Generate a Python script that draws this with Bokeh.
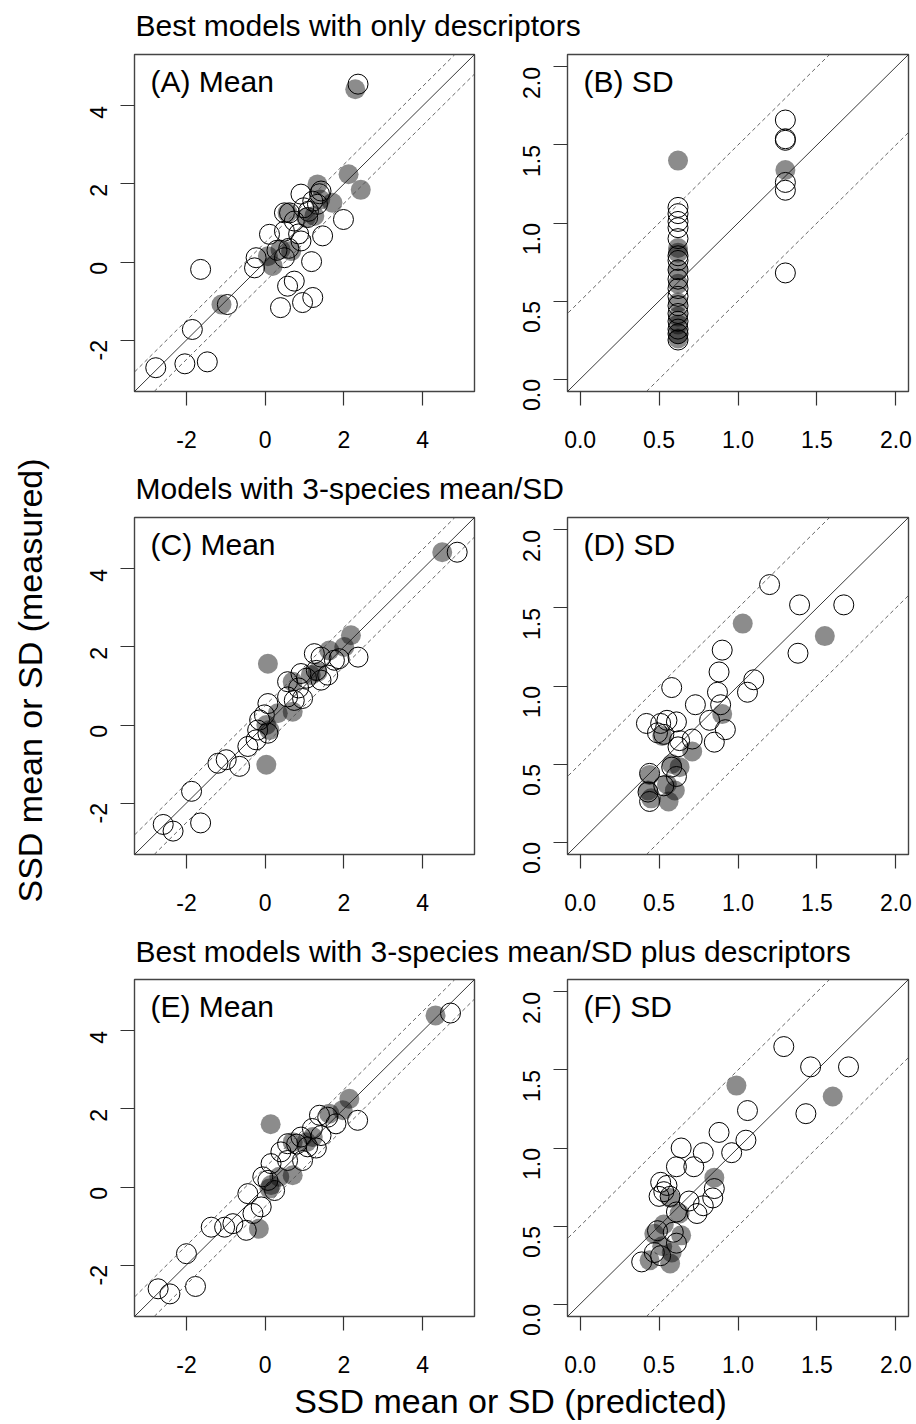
import math
from bokeh.plotting import figure
from bokeh.models import Range1d, FixedTicker, NumeralTickFormatter, Slope, Label
from bokeh.layouts import row, column
from bokeh.embed import file_html
from bokeh.resources import INLINE

# ---------------- data (predicted = x, measured = y) ----------------
# Panel A: mean, best models with only descriptors
a_open_pred = [2.36, -0.96, -1.64, -1.85, -2.78, -2.04, -1.47, 1.99, 1.46, 1.18, 0.39, 0.57, 0.74, 0.95, 1.21,
               -0.23, -0.27, 0.11, 0.49, 0.91, 0.49, 0.49, 0.62, 0.91, 0.98, 1.21, 1.42, 1.33, 0.74, 1.08,
               1.38, 1.10, 0.30, 0.85, 0.60]
a_open_meas = [4.56, -1.09, -0.19, -1.73, -2.71, -2.61, -2.56, 1.09, 0.67, 0.01, -1.17, -0.62, -0.49, -1.04, -0.91,
               0.11, -0.15, 0.71, 0.79, 0.54, 0.11, 1.26, 1.26, 1.74, 1.39, 1.56, 1.82, 1.48, 1.05, 1.14,
               1.75, 1.30, 0.30, 0.72, 0.35]
a_fill_pred = [2.29, 2.12, 2.43, 1.33, 1.71, -1.11, 0.07, 0.19, 0.39, 0.66, 1.04, 1.25, 0.57, 1.40]
a_fill_meas = [4.43, 2.25, 1.85, 1.99, 1.52, -1.09, 0.15, -0.10, 0.32, 0.28, 1.14, 1.18, 1.26, 1.60]

# Panel B: SD, best models with only descriptors
b_open_pred = [0.62] * 17 + [1.30] * 6
b_open_meas = [1.10, 1.06, 1.01, 0.97, 0.90, 0.79, 0.76, 0.70, 0.64, 0.58, 0.53, 0.47, 0.42, 0.37, 0.32, 0.29, 0.25,
               1.66, 1.54, 1.53, 1.26, 1.21, 0.68]
b_fill_pred = [0.62] * 10 + [1.30]
b_fill_meas = [1.40, 0.84, 0.81, 0.70, 0.61, 0.49, 0.40, 0.35, 0.29, 0.26, 1.34]

# Panel C: mean, models with 3-species mean/SD
c_open_pred = [4.88, 2.36, 1.25, 1.42, 1.76, 1.88, 0.57, 0.91, 1.59, 1.42, 0.07, 0.57, 0.95, 0.74, -0.02,
               -0.14, -0.19, 0.07, -0.23, -0.44, -0.65, -1.20, -0.99, -1.87, -2.59, -2.34, -1.64, 1.05, 1.30, 0.85]
c_open_meas = [4.43, 1.74, 1.83, 1.74, 1.66, 1.70, 1.11, 1.32, 1.28, 1.15, 0.55, 0.72, 0.68, 0.63, 0.26,
               0.13, -0.13, -0.21, -0.38, -0.55, -1.06, -0.98, -0.89, -1.70, -2.55, -2.72, -2.51, 1.20, 1.40, 0.95]
c_fill_pred = [4.50, 0.07, 0.03, 2.18, 2.01, 1.63, 0.70, 1.16, 1.33, 0.32, 0.70, 0.03, 0.11]
c_fill_meas = [4.43, 1.57, -1.02, 2.30, 2.00, 1.91, 1.11, 1.28, 1.36, 0.30, 0.34, 0.00, -0.13]

# Panel D: SD, models with 3-species mean/SD
d_open_pred = [1.20, 1.39, 1.67, 0.90, 1.38, 0.88, 1.10, 1.06, 0.87, 0.58, 0.73, 0.89, 0.82, 0.92, 0.85,
               0.42, 0.51, 0.61, 0.55, 0.49, 0.53, 0.63, 0.71, 0.62, 0.44, 0.58, 0.61, 0.44, 0.43, 0.53]
d_open_meas = [1.65, 1.52, 1.52, 1.23, 1.21, 1.09, 1.04, 0.96, 0.96, 0.99, 0.88, 0.88, 0.78, 0.72, 0.64,
               0.76, 0.76, 0.77, 0.78, 0.70, 0.69, 0.65, 0.66, 0.61, 0.44, 0.48, 0.42, 0.26, 0.32, 0.36]
d_fill_pred = [1.03, 1.55, 0.90, 0.52, 0.71, 0.58, 0.63, 0.44, 0.55, 0.43, 0.45, 0.56, 0.60]
d_fill_meas = [1.40, 1.32, 0.82, 0.68, 0.58, 0.50, 0.48, 0.43, 0.37, 0.33, 0.28, 0.26, 0.33]

# Panel E: mean, best models with 3-species mean/SD plus descriptors
e_open_pred = [4.71, 2.35, 1.38, 1.80, 1.59, 0.57, 0.91, 1.42, 1.08, 0.15, 0.57, 0.95, 0.07, -0.06, 0.24,
               -0.44, -0.10, -0.31, -0.48, -0.82, -1.03, -1.37, -2.00, -2.72, -2.42, -1.77, 1.20, 0.80, 1.30, 0.40]
e_open_meas = [4.46, 1.71, 1.84, 1.62, 1.79, 1.11, 1.28, 1.32, 1.03, 0.60, 0.68, 0.68, 0.17, 0.26, -0.09,
               -0.17, -0.51, -0.68, -1.11, -0.94, -1.03, -1.03, -1.71, -2.61, -2.74, -2.55, 1.50, 1.10, 1.00, 0.90]
e_fill_pred = [4.33, 0.14, -0.16, 2.14, 1.97, 1.63, 0.70, 1.21, 0.36, 0.70, 0.11, 1.05, 0.15]
e_fill_meas = [4.40, 1.61, -1.07, 2.26, 1.97, 1.88, 1.15, 1.28, 0.26, 0.30, -0.04, 1.15, 0.05]

# Panel F: SD, best models with 3-species mean/SD plus descriptors
f_open_pred = [1.29, 1.46, 1.70, 1.43, 1.06, 0.88, 1.05, 0.96, 0.64, 0.78, 0.72, 0.61, 0.85, 0.84, 0.78,
               0.74, 0.51, 0.55, 0.53, 0.57, 0.50, 0.69, 0.61, 0.39, 0.49, 0.59, 0.47, 0.51, 0.61]
f_open_meas = [1.65, 1.52, 1.52, 1.22, 1.24, 1.10, 1.05, 0.97, 1.00, 0.97, 0.88, 0.88, 0.74, 0.68, 0.63,
               0.58, 0.78, 0.76, 0.72, 0.69, 0.69, 0.66, 0.59, 0.27, 0.47, 0.46, 0.33, 0.31, 0.39]
f_fill_pred = [0.99, 1.60, 0.85, 0.57, 0.63, 0.53, 0.47, 0.64, 0.52, 0.58, 0.44, 0.57]
f_fill_meas = [1.40, 1.33, 0.81, 0.68, 0.58, 0.51, 0.45, 0.44, 0.37, 0.33, 0.28, 0.26]

mean_ticks = [-2, 0, 2, 4]
sd_ticks = [0.0, 0.5, 1.0, 1.5, 2.0]
mean_lim = (-3.0, 5.0)
sd_lim = (0.0, 2.0)
band = 0.5

row_titles = ["Best models with only descriptors",
              "Models with 3-species mean/SD",
              "Best models with 3-species mean/SD plus descriptors"]
x_label = "SSD mean or SD (predicted)"
y_label = "SSD mean or SD (measured)"

FONT = "Liberation Sans"
PANEL_H = 407


def make_panel(op, om, fp, fm, kind, tag, width, ml, mr):
    lo, hi = mean_lim if kind == "mean" else sd_lim
    ext = (hi - lo) * 0.04
    p = figure(width=width, height=PANEL_H, x_range=Range1d(lo - ext, hi + ext),
               y_range=Range1d(lo - ext, hi + ext), output_backend="svg",
               toolbar_location=None, tools="",
               min_border_left=ml, min_border_right=mr, min_border_top=8, min_border_bottom=62)
    p.xgrid.visible = False
    p.ygrid.visible = False
    p.outline_line_color = "#444444"
    p.outline_line_width = 1.4
    p.background_fill_color = "white"
    p.border_fill_color = "white"
    ticks = mean_ticks if kind == "mean" else sd_ticks
    fmt = "0" if kind == "mean" else "0.0"
    for ax in (p.xaxis[0], p.yaxis[0]):
        ax.ticker = FixedTicker(ticks=ticks)
        ax.formatter = NumeralTickFormatter(format=fmt)
        ax.axis_line_color = None
        ax.major_tick_out = 14
        ax.major_tick_in = 0
        ax.major_tick_line_color = "#333333"
        ax.major_tick_line_width = 1.2
        ax.minor_tick_line_color = None
        ax.major_label_text_font = FONT
        ax.major_label_text_font_size = "23px"
        ax.major_label_text_color = "black"
    p.xaxis[0].major_label_standoff = 25
    p.yaxis[0].major_label_standoff = 22
    p.yaxis[0].major_label_orientation = math.pi / 2

    p.add_layout(Slope(gradient=1, y_intercept=0, line_color="#222222", line_width=0.9))
    for c in (band, -band):
        p.add_layout(Slope(gradient=1, y_intercept=c, line_color="#555555",
                           line_width=0.9, line_dash="4 3"))

    p.scatter(op, om, size=20, marker="circle", fill_color=None, line_color="black", line_width=1)
    p.scatter(fp, fm, size=20, marker="circle", fill_color="black", fill_alpha=0.45, line_color=None)

    span = (hi - lo) + 2 * ext
    px_x = span / 340.0
    px_y = span / 337.0
    p.add_layout(Label(x=lo - ext + 16 * px_x, y=hi + ext - 27 * px_y, text=tag,
                       text_font=FONT, text_font_size="30px", text_color="black",
                       text_baseline="alphabetic"))
    return p


YLW = 58
COLW = 858
LEFTW = 426
RIGHTW = COLW - LEFTW


def text_fig(w, h, txt, x, y, size, align="left", angle=0.0):
    f = figure(width=w, height=h, x_range=Range1d(0, w), y_range=Range1d(0, h),
               output_backend="svg", toolbar_location=None, tools="",
               x_axis_location=None, y_axis_location=None,
               min_border=0, min_border_left=0, min_border_right=0,
               min_border_top=0, min_border_bottom=0)
    f.xgrid.visible = False
    f.ygrid.visible = False
    f.outline_line_color = None
    f.border_fill_color = "white"
    f.background_fill_color = "white"
    f.add_layout(Label(x=x, y=y, text=txt, text_font=FONT, text_font_size=size,
                       text_color="black", text_align=align, text_baseline="alphabetic",
                       angle=angle))
    return f


pA = make_panel(a_open_pred, a_open_meas, a_fill_pred, a_fill_meas, "mean", "(A) Mean", LEFTW, 76, 10)
pB = make_panel(b_open_pred, b_open_meas, b_fill_pred, b_fill_meas, "sd", "(B) SD", RIGHTW, 83, 8)
pC = make_panel(c_open_pred, c_open_meas, c_fill_pred, c_fill_meas, "mean", "(C) Mean", LEFTW, 76, 10)
pD = make_panel(d_open_pred, d_open_meas, d_fill_pred, d_fill_meas, "sd", "(D) SD", RIGHTW, 83, 8)
pE = make_panel(e_open_pred, e_open_meas, e_fill_pred, e_fill_meas, "mean", "(E) Mean", LEFTW, 76, 10)
pF = make_panel(f_open_pred, f_open_meas, f_fill_pred, f_fill_meas, "sd", "(F) SD", RIGHTW, 83, 8)

t1 = text_fig(COLW, 46, row_titles[0], 77, 21, "30px")
t2 = text_fig(COLW, 56, row_titles[1], 77, 21, "30px")
t3 = text_fig(COLW, 55, row_titles[2], 77, 20, "30px")
xl = text_fig(COLW, 45, x_label, 452, 23, "34px", align="center")

col = column(t1, row(pA, pB), t2, row(pC, pD), t3, row(pE, pF), xl)
TOTAL_H = 46 + PANEL_H + 56 + PANEL_H + 55 + PANEL_H + 45
yl = text_fig(YLW, TOTAL_H, y_label, 29, TOTAL_H - 680, "34px", align="center", angle=math.pi / 2)

layout = row(yl, col)

open("out.html", "w").write(file_html(layout, INLINE))
